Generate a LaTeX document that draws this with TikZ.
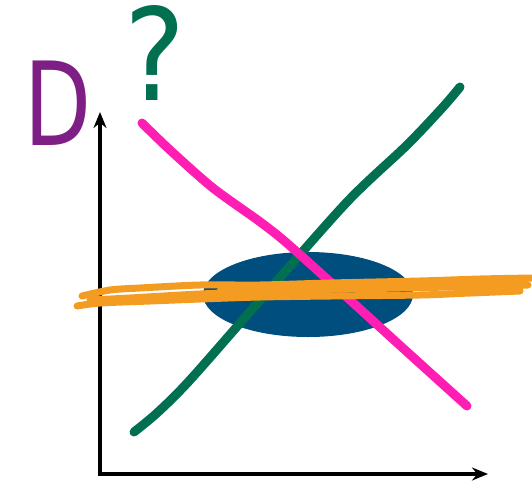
\documentclass[tikz,border=0pt]{standalone}
\usepackage{fontspec}
\usepackage{tikz}
\usetikzlibrary{arrows.meta}
\newfontfamily\handfont{DejaVu Sans}
\definecolor{SketchBlue}{HTML}{004E7E}
\definecolor{SketchGreen}{HTML}{007050}
\definecolor{SketchPink}{HTML}{FF1EB4}
\definecolor{SketchOrange}{HTML}{F49B22}
\definecolor{SketchPurple}{HTML}{7E1F86}
\begin{document}
\begin{tikzpicture}[x=1pt,y=-1pt,>={Stealth[length=16pt,width=13pt]},
  stroke/.style={line width=9pt,line cap=round,line join=round},
  smear/.style={line width=7pt,line cap=round,line join=round,color=SketchOrange}]
  \useasboundingbox (0,0) rectangle (532,488);
  \coordinate (origin) at (100,474);
  \coordinate (ytip) at (100,112);
  \coordinate (xtip) at (488,474);
  \draw[->,line width=3.2pt] (origin) -- (ytip);
  \draw[->,line width=3.2pt] ([xshift=-2pt]origin) -- (xtip);
  \fill[SketchBlue] (308,294.5) ellipse [x radius=105pt,y radius=42.5pt];
  \draw[stroke,color=SketchGreen] plot[smooth,tension=0.5] coordinates {(134,432) (157,413)
    (190,380) (262,298) (347,202) (407,145) (443,107) (460,87)};
  \draw[stroke,color=SketchPink] plot[smooth,tension=0.5] coordinates {(142,123) (170,150)
    (213,188) (263,224) (297,252) (405,350) (467,406)};
  \draw[smear] plot[smooth,tension=0.5] coordinates {(82,296) (110,290) (140,288) (200,285)
    (260,285) (330,283) (420,281) (480,279) (532,278)};
  \draw[smear] plot[smooth,tension=0.5] coordinates {(77,306) (100,303) (150,301) (200,299)
    (260,297) (330,296) (420,295) (470,293) (520,291)};
  \draw[smear] plot[smooth,tension=0.5] coordinates {(90,300) (130,298) (200,294) (300,290)
    (400,288) (500,286) (528,285)};
  \draw[smear] plot[smooth,tension=0.5] coordinates {(220,291) (320,289) (440,286) (525,282)};
  \node[anchor=base west,inner sep=0pt,xscale=0.75,text=SketchPurple,
    font=\handfont\fontsize{116}{116}\selectfont] (dlabel) at (24,145) {D};
  \node[anchor=base west,inner sep=0pt,xscale=0.9,text=SketchGreen,
    font=\handfont\fontsize{128}{128}\selectfont] (qlabel) at (124,100) {?};
\end{tikzpicture}
\end{document}
